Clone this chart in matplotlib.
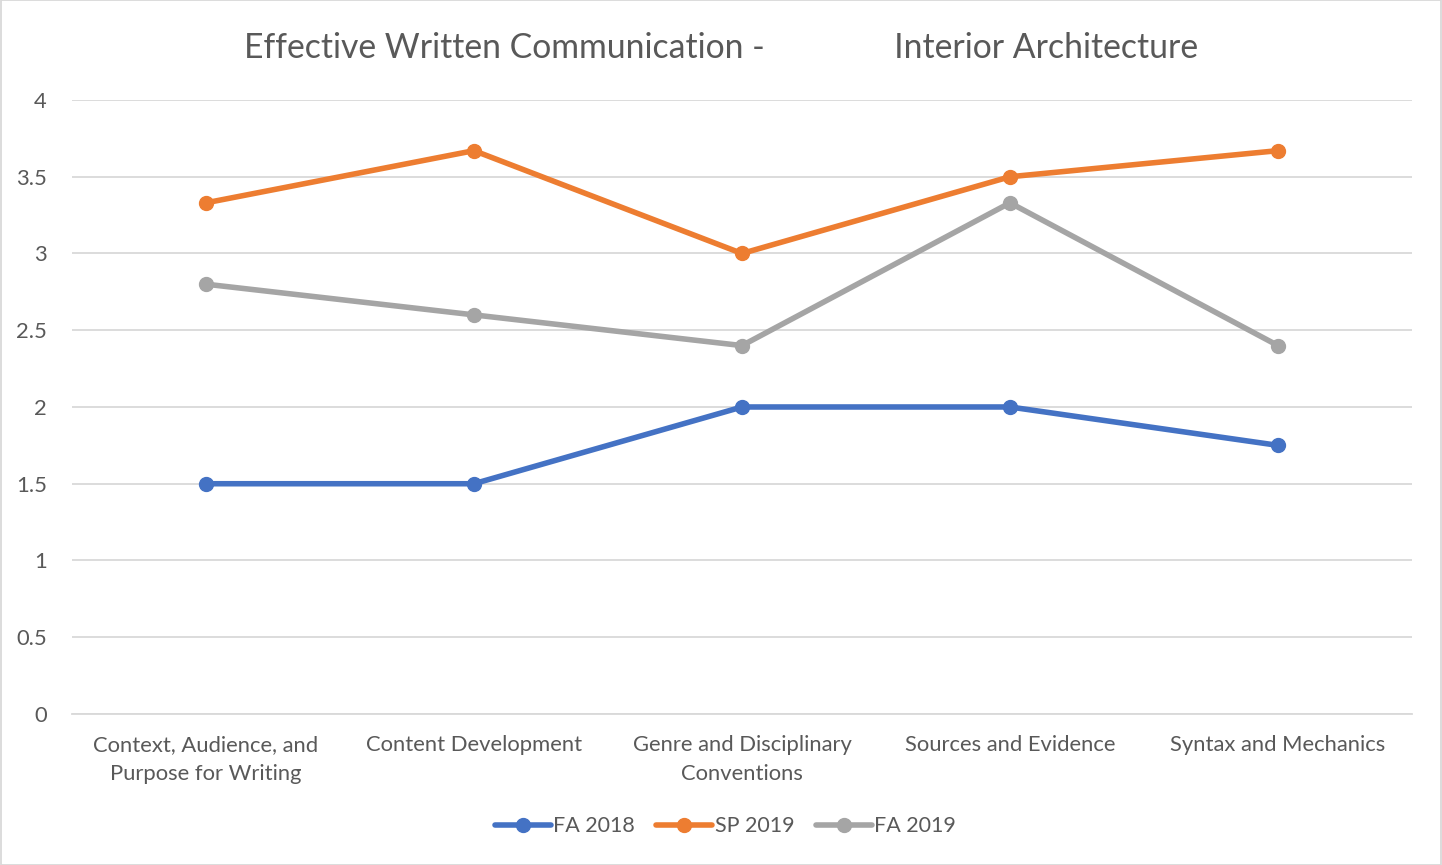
import numpy as np
import matplotlib.pyplot as plt
from matplotlib.patches import Rectangle

plt.rcParams['font.family'] = ['Lato', 'DejaVu Sans']

categories = ["Context, Audience, and\nPurpose for Writing", "Content Development",
              "Genre and Disciplinary\nConventions", "Sources and Evidence",
              "Syntax and Mechanics"]
fa2018 = [1.5, 1.5, 2.0, 2.0, 1.75]
sp2019 = [3.33, 3.67, 3.0, 3.5, 3.67]
fa2019 = [2.8, 2.6, 2.4, 3.33, 2.4]
series_names = ["FA 2018", "SP 2019", "FA 2019"]
colors = ["#4472C4", "#ED7D31", "#A5A5A5"]

fig = plt.figure(figsize=(14.42, 8.65), dpi=100)
ax = fig.add_axes([0.0499, 0.1746, 0.9293, 0.7098])

x = np.arange(len(categories))
for vals, name, c in zip([fa2018, sp2019, fa2019], series_names, colors):
    ax.plot(x, vals, color=c, lw=4, marker='o', ms=10, label=name,
            solid_capstyle='round')

ax.set_xlim(-0.5, len(categories) - 0.5)
ax.set_ylim(0, 4)
ax.set_yticks(np.arange(0, 4.01, 0.5))
ax.set_yticklabels(["0", "0.5", "1", "1.5", "2", "2.5", "3", "3.5", "4"])
ax.set_xticks(x)
ax.set_xticklabels(categories, linespacing=1.55)
ax.tick_params(axis='both', length=0, labelsize=15.8, labelcolor='#595959')
ax.tick_params(axis='y', pad=18)
ax.tick_params(axis='x', pad=15)
ax.grid(axis='y', color='#D9D9D9', lw=1.3)
ax.set_axisbelow(True)
for s in ['top', 'right', 'left']:
    ax.spines[s].set_visible(False)
ax.spines['bottom'].set_color('#D9D9D9')
ax.spines['bottom'].set_linewidth(1.3)

fig.text(0.5, 0.944, "Effective Written Communication -               Interior Architecture",
         ha='center', va='center', fontsize=24.3, color='#595959')

fig.legend(loc='center', bbox_to_anchor=(0.503, 0.045), ncol=3, frameon=False,
           fontsize=15.5, labelcolor='#595959', handlelength=2.6, handletextpad=0.1,
           columnspacing=1.0)

fig.add_artist(Rectangle((0.0005, 0.0005), 0.999, 0.999, transform=fig.transFigure,
                         fill=False, edgecolor='#D9D9D9', lw=1.3))

fig.savefig("out.png", dpi=100)
